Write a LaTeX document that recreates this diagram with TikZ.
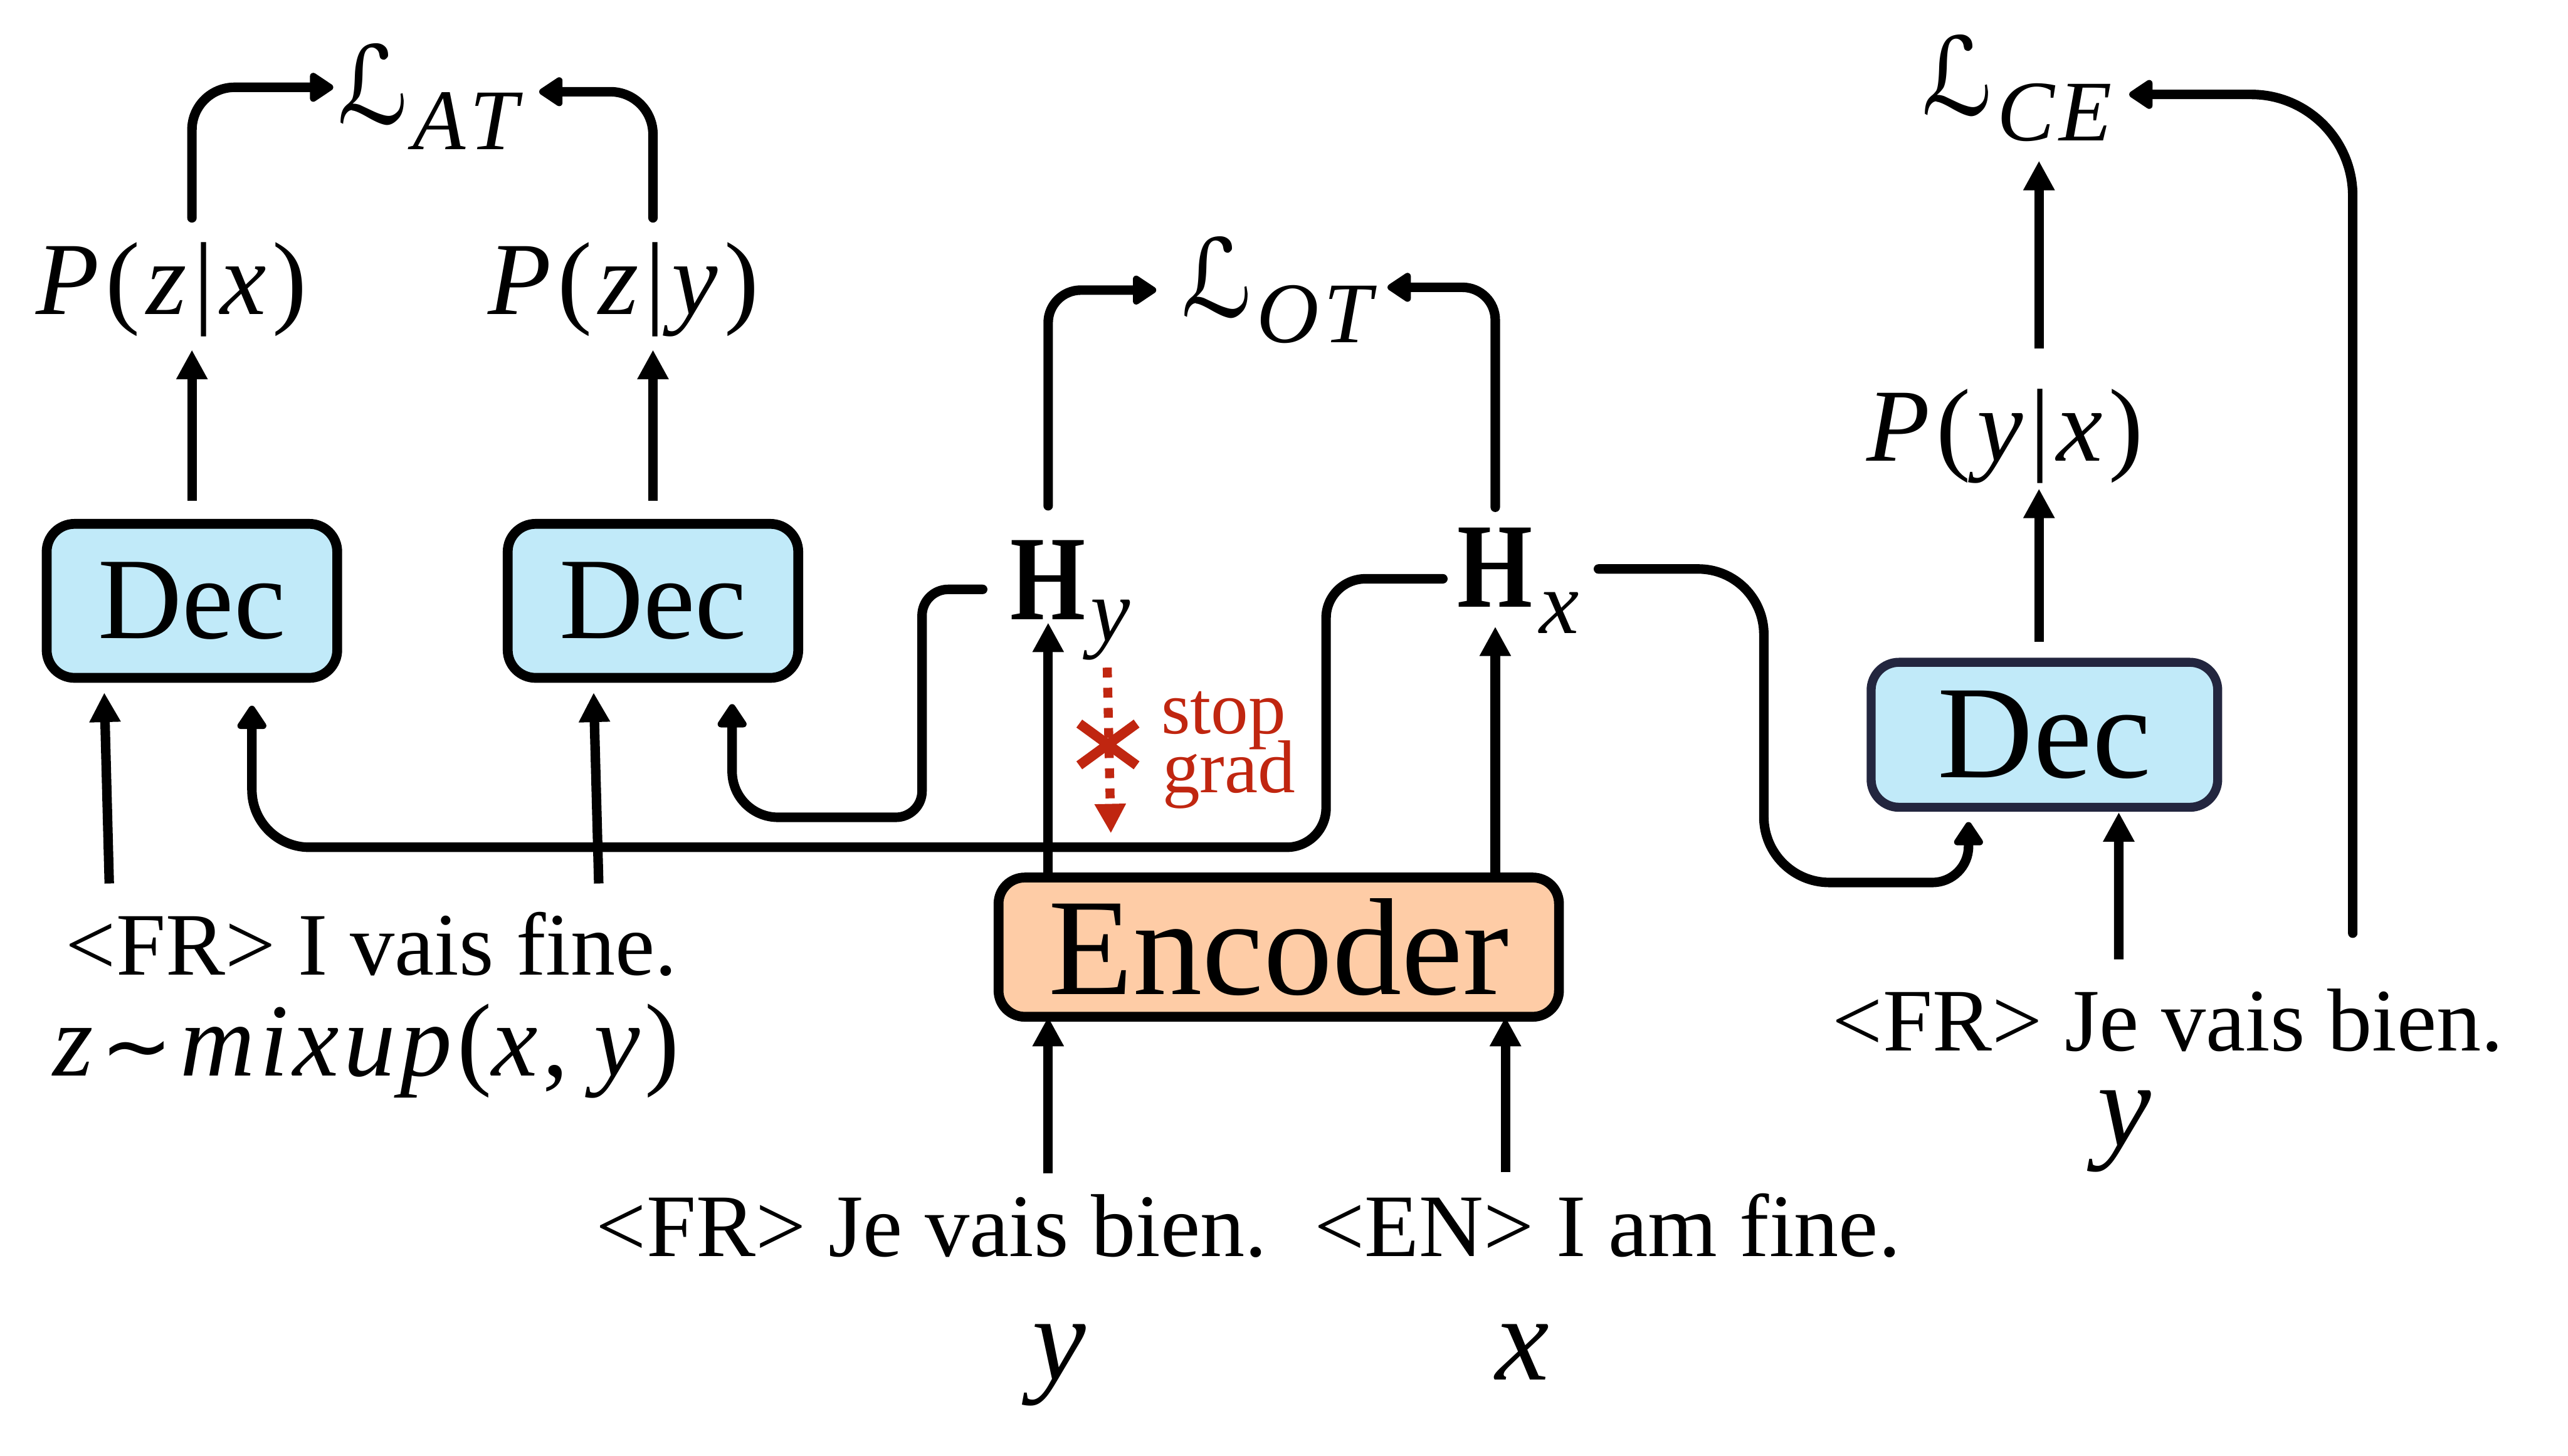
\documentclass[tikz,border=0pt]{standalone}
\usepackage{fontspec}
\setmainfont{Liberation Serif}
\newfontfamily\djv{DejaVu Sans}
\usepackage{graphicx}
\usetikzlibrary{arrows.meta,calc}
\definecolor{decfill}{RGB}{193,234,249}
\definecolor{encfill}{RGB}{254,204,166}
\definecolor{sgred}{RGB}{192,38,16}
\definecolor{navy}{RGB}{35,38,63}
\newcommand\ks{\kern0.06em}
\newcommand\kk{\kern0.045em}
\newcommand\Lscr{\resizebox{0.43cm}{0.49cm}{\djv ℒ}}
\newcommand\fs[1]{\fontsize{#1}{#1}\selectfont}
\begin{document}
\begin{tikzpicture}[x=0.01cm, y=-0.01cm, line width=0.058cm,
  every node/.style={inner sep=0pt, outer sep=0pt},
  decbox/.style={draw, fill=decfill, line width=0.06cm, rounded corners=0.17cm,
    minimum width=1.773cm, minimum height=0.94cm, font=\fs{20.2pt}},
  encbox/.style={draw, fill=encfill, line width=0.06cm, rounded corners=0.16cm,
    minimum width=3.42cm, minimum height=0.85cm, font=\fs{24pt}},
  sarr/.style={-{Triangle[length=0.18cm,width=0.18cm]}, line width=0.058cm},
  rarr/.style={-{Triangle[length=0.16cm,width=0.2cm,round]}, line width=0.058cm, line cap=round},
  txt/.style={font=\fs{15.5pt}},
  mth/.style={font=\fs{18pt}},
  var/.style={font=\fs{21pt}\itshape},
  hnode/.style={font=\fs{21pt}\bfseries},
  hsub/.style={font=\fs{15.5pt}\itshape},
  sgtxt/.style={font=\fs{13pt}, text=sgred},
  stopg/.style={draw=sgred, dash pattern=on 0.06cm off 0.063cm, line width=0.055cm,
    -{Triangle[length=0.18cm,width=0.18cm]}}
]
\useasboundingbox (0,0) rectangle (1568,889);

% boxes
\node[decbox] (dec1) at (117.2,367) {Dec};
\node[decbox] (dec2) at (398.7,367) {Dec};
\node[decbox, draw=navy, line width=0.055cm, minimum width=2.115cm, minimum height=0.885cm, font=\fs{23pt}] (dec3) at (1248.3,448.8) {Dec};
\node[encbox] (enc) at (780.8,578.5) {Encoder};

% probabilities
\node[mth, anchor=base] (pzx) at (104.8,192) {\textit{P}\ks(\ks\textit{z}\ks|\ks\textit{x}\ks)};
\node[mth, anchor=base] (pzy) at (380.7,192) {\textit{P}\ks(\ks\textit{z}\ks|\ks\textit{y}\ks)};
\node[mth, anchor=base] (pyx) at (1224.3,281.4) {\textit{P}\ks(\ks\textit{y}\ks|\ks\textit{x}\ks)};

% losses
\node[anchor=base west] (lat) at (206,75.8) {\Lscr\kern0.03cm\raisebox{-0.155cm}{\fs{15pt}\itshape A\kern0.05em T}};
\node[anchor=base west] (lot) at (721.4,193.7) {\Lscr\kern0.03cm\raisebox{-0.155cm}{\fs{15pt}\itshape O\kern0.05em T}};
\node[anchor=base west] (lce) at (1173.5,70.4) {\Lscr\kern0.03cm\raisebox{-0.155cm}{\fs{15pt}\itshape C\kern0.05em E}};

% hidden states
\node[hnode, anchor=base] (hy) at (640,378.3) {\scalebox{0.8}[1]{H}};
\node[hsub, anchor=base west] (hys) at ([xshift=0.03cm, yshift=-0.13cm]hy.base east) {y};
\node[hnode, anchor=base] (hx) at (913,370.7) {\scalebox{0.8}[1]{H}};
\node[hsub, anchor=base west] (hxs) at ([xshift=0.04cm, yshift=-0.163cm]hx.base east) {x};

% texts
\node[txt, anchor=base] (fr1) at (226.8,595.6) {<FR> I vais fine.};
\node[mth, anchor=base] (mix) at (223.7,657) {\textit{z}\kern0.07em{\djv\fs{15pt}∼}\kern0.07em\textit{m\kk i\kk x\kk u\kk p}\kk(\textit{x}\kk,\kern0.25em\textit{y}\kk)};
\node[txt, anchor=base] (fr2) at (568.9,767.2) {<FR> Je vais bien.};
\node[txt, anchor=base] (en) at (981.5,767.2) {<EN> I am fine.};
\node[var, anchor=base] (yb) at (646.5,842.6) {y};
\node[var, anchor=base] (xb) at (929.5,842.6) {x};
\node[txt, anchor=base] (fr3) at (1323.8,641.8) {<FR> Je vais bien.};
\node[var, anchor=base] (yr) at (1297,700) {y};

% stop grad
\node[sgtxt, anchor=base west] (sg) at (709,448) {\vtop{\baselineskip=0.36cm\lineskiplimit=-1cm\hbox{stop}\hbox{\kern0.008cm grad}}};

% waypoints
\coordinate (wpA) at (809.7,517.5);
\coordinate (wpB) at (563,499.2);
\coordinate (wpC) at (1077,539);
\coordinate (sgEnd) at (678.3,509);
\coordinate (sgX) at (676.5,454.7);

% Dec -> P
\draw[sarr, shorten <=0.14cm, shorten >=0.08cm] (dec1.north) -- (dec1.north |- pzx.south);
\draw[sarr, shorten <=0.14cm, shorten >=0.08cm] (dec2.north) -- (dec2.north |- pzy.south);

% P -> L_AT
\draw[rarr, rounded corners=0.26cm, shorten <=0.15cm] (dec1.north |- pzx.north) |- ([xshift=-0.025cm, yshift=0.057cm]lat.west);
\draw[rarr, rounded corners=0.26cm, shorten <=0.15cm] (dec2.north |- pzy.north) |- ([xshift=0.13cm, yshift=0.03cm]lat.east);

% H -> L_OT
\draw[rarr, rounded corners=0.2cm, shorten <=0.21cm] (hy.north) |- ([xshift=-0.154cm]lot.west);
\draw[rarr, rounded corners=0.2cm, shorten <=0.125cm] (hx.north) |- ([xshift=0.097cm, yshift=0.017cm]lot.east);

% Hy -> Dec2
\draw[rarr] ([xshift=-0.17cm, yshift=-0.0585cm]hy.west) [rounded corners=0.16cm] -| (wpB) [rounded corners=0.28cm] -| ([xshift=0.483cm, yshift=-0.16cm]dec2.south);

% Hx -> Dec1
\draw[rarr] ([xshift=-0.09cm, yshift=-0.07cm]hx.west) [rounded corners=0.24cm] -| (wpA) [rounded corners=0.35cm] -| ([xshift=0.366cm, yshift=-0.17cm]dec1.south);

% Hx -> Dec3
\draw[rarr] ([xshift=0.4cm, yshift=-0.01cm]hx.east) [rounded corners=0.4cm] -| (wpC) [rounded corners=0.22cm] -| ([xshift=-0.463cm, yshift=-0.09cm]dec3.south);

% Encoder -> H
\draw[sarr, shorten >=0.02cm] (enc.north -| hy.south) -- (hy.south);
\draw[sarr, shorten >=0.12cm] (enc.north -| hx.south) -- (hx.south);

% inputs -> Encoder
\draw[sarr, shorten <=0.126cm] (fr2.north -| hy.south) -- (enc.south -| hy.south);
\draw[sarr, shorten <=0.128cm] ([xshift=0.062cm]en.north -| hx.south) -- ([xshift=0.062cm]enc.south -| hx.south);

% inputs -> Dec1, Dec2
\draw[sarr] ([xshift=-1.6cm, yshift=0.176cm]fr1.north) -- ([xshift=-0.535cm, yshift=-0.09cm]dec1.south);
\draw[sarr] ([xshift=1.387cm, yshift=0.176cm]fr1.north) -- ([xshift=-0.362cm, yshift=-0.09cm]dec2.south);

% input -> Dec3
\draw[sarr] ([xshift=-0.301cm, yshift=0.18cm]fr3.north) -- ([xshift=0.454cm, yshift=-0.03cm]dec3.south);

% Dec3 -> P(y|x) -> L_CE
\draw[sarr, shorten <=0.125cm, shorten >=0.034cm] ([xshift=-0.033cm]dec3.north) -- ([xshift=-0.033cm]dec3.north |- pyx.south);
\draw[sarr, shorten <=0.245cm, shorten >=0.118cm] ([xshift=-0.033cm]dec3.north |- pyx.north) -- ([xshift=-0.033cm]dec3.north |- lce.south);

% target -> L_CE
\draw[rarr, rounded corners=0.62cm] ([xshift=1.127cm, yshift=0.34cm]fr3.north) |- ([xshift=0.105cm, yshift=-0.038cm]lce.east);

% stop grad
\draw[stopg] ([xshift=-0.02cm, yshift=-0.047cm]hys.south) -- (sgEnd);
\draw[sgred, line width=0.06cm] ([shift={(-17.5,-12.75)}]sgX) -- ([shift={(17.5,12.75)}]sgX)
  ([shift={(-17.5,12.75)}]sgX) -- ([shift={(17.5,-12.75)}]sgX);
\end{tikzpicture}
\end{document}
